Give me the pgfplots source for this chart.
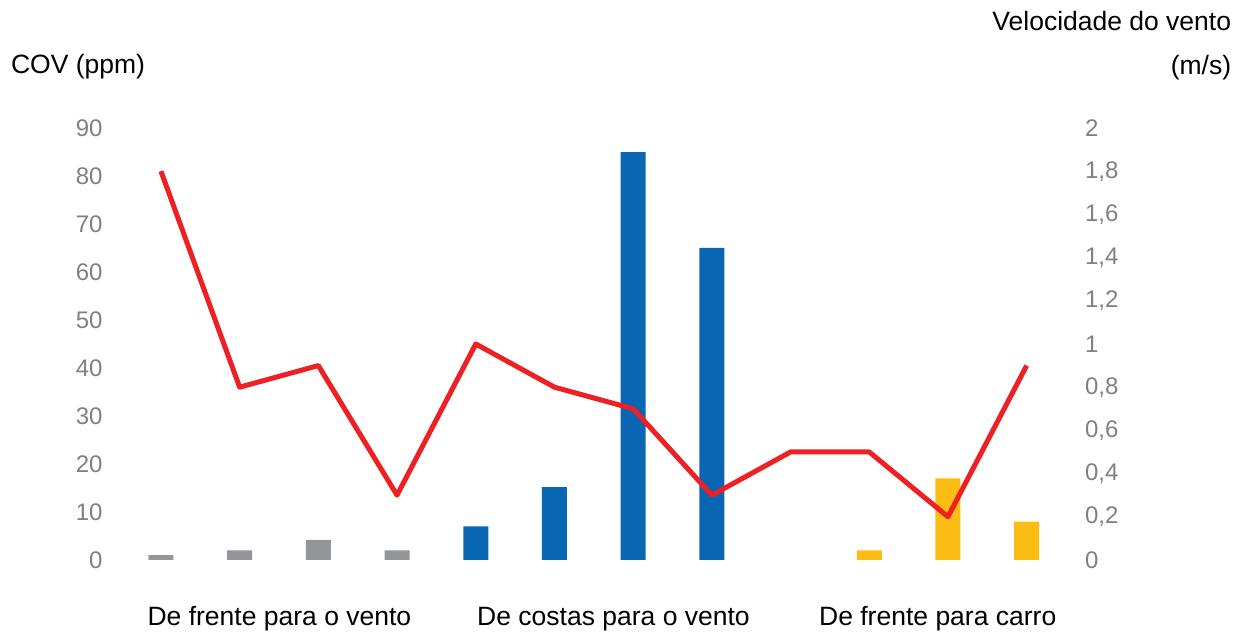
\documentclass[border=0pt]{standalone}
\usepackage{fontspec}
\setmainfont{Liberation Sans}
\usepackage{pgfplots}
\pgfplotsset{compat=1.18}
\definecolor{tickgray}{RGB}{128,128,128}
\definecolor{bargray}{RGB}{147,149,152}
\definecolor{barblue}{RGB}{8,102,179}
\definecolor{baryellow}{RGB}{251,189,19}
\definecolor{linered}{RGB}{237,32,36}
\pgfplotsset{
  common/.style={
    width=472.25pt, height=216pt, scale only axis,
    at={(0,0)}, anchor=south west,
    xmin=0.5, xmax=12.5,
    ymin=0,
    major tick length=0pt,
    axis line style={draw=none},
    tick label style={font=\fontsize{12}{14}\selectfont, text=tickgray},
    /pgf/number format/assume math mode=true,
    clip=false,
  }
}
\begin{document}
\begin{tikzpicture}
\useasboundingbox (-60.8pt,-36.5pt) rectangle (560.25pt,280pt);
\begin{axis}[common,
  ymax=90, ytick={0,10,...,90},
  axis x line*=bottom, axis y line*=left,
  xtick={2.505,6.75,10.87},
  xticklabels={De frente para o vento, De costas para o vento, De frente para carro},
  xticklabel style={anchor=base, yshift=-33pt, text=black, font=\fontsize{13.25}{16}\selectfont},
  yticklabel style={anchor=east, xshift=-6pt},
  ybar, bar width=12.5pt,
  ylabel={COV (ppm)},
  every axis y label/.style={at={(rel axis cs:0,1)}, anchor=base west, xshift=-58.8pt, yshift=27.5pt, font=\fontsize{13.25}{16}\selectfont},
]
\addplot[fill=bargray, draw=none, bar shift=0pt] coordinates {(1,1) (2,2) (3,4.2) (4,2)};
\addplot[fill=barblue, draw=none, bar shift=0pt] coordinates {(5,7) (6,15.2) (7,85) (8,65)};
\addplot[fill=baryellow, draw=none, bar shift=0pt] coordinates {(10,2) (11,17) (12,8)};
\end{axis}
\begin{axis}[common,
  ymax=2, ytick={0,0.2,...,2.01},
  axis x line=none, axis y line*=right,
  yticklabel style={anchor=west, xshift=6pt, /pgf/number format/.cd, fixed, precision=1, use comma},
]
\addplot[linered, line width=2.5pt, line join=round] coordinates {
(1,1.8) (2,0.8) (3,0.9) (4,0.3) (5,1.0) (6,0.8) (7,0.7) (8,0.3) (9,0.5) (10,0.5) (11,0.2) (12,0.9)};
\end{axis}
\node[anchor=base east, font=\fontsize{13.25}{16}\selectfont, inner sep=0pt] at (555pt,264.5pt) {Velocidade do vento};
\node[anchor=base east, font=\fontsize{13.25}{16}\selectfont, inner sep=0pt] at (555pt,242.5pt) {(m/s)};
\end{tikzpicture}
\end{document}
